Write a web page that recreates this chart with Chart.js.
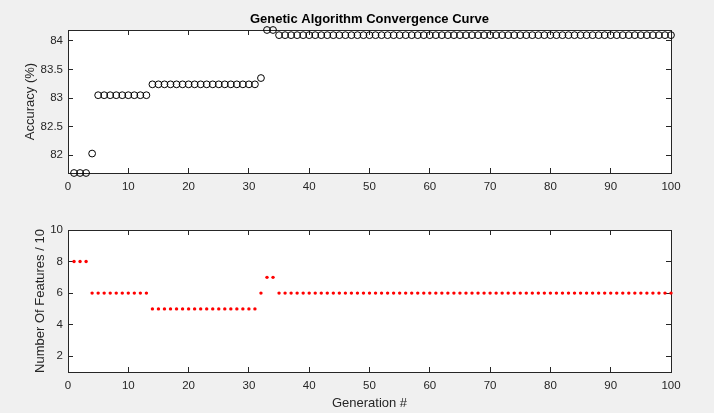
<!DOCTYPE html>
<html>
<head>
<meta charset="utf-8">
<title>Genetic Algorithm Convergence Curve</title>
<script src="https://cdn.jsdelivr.net/npm/chart.js@4.4.1/dist/chart.umd.min.js"></script>
<style>
  html, body { margin: 0; padding: 0; background: #f0f0f0; }
  #wrap { position: relative; width: 714px; height: 413px; overflow: hidden; }
  canvas { position: absolute; left: 0; }
  #accChart { top: 0; }
  #featChart { top: 200px; }
</style>
</head>
<body>
<div id="wrap">
  <canvas id="accChart" width="714" height="200"></canvas>
  <canvas id="featChart" width="714" height="213"></canvas>
</div>
<script>
// ---- DATA ----
const generations = [
  1, 2, 3, 4, 5, 6, 7, 8, 9, 10,
  11, 12, 13, 14, 15, 16, 17, 18, 19, 20,
  21, 22, 23, 24, 25, 26, 27, 28, 29, 30,
  31, 32, 33, 34, 35, 36, 37, 38, 39, 40,
  41, 42, 43, 44, 45, 46, 47, 48, 49, 50,
  51, 52, 53, 54, 55, 56, 57, 58, 59, 60,
  61, 62, 63, 64, 65, 66, 67, 68, 69, 70,
  71, 72, 73, 74, 75, 76, 77, 78, 79, 80,
  81, 82, 83, 84, 85, 86, 87, 88, 89, 90,
  91, 92, 93, 94, 95, 96, 97, 98, 99, 100
];

const accuracy = [
  81.69, 81.69, 81.69, 82.03, 83.05, 83.05, 83.05, 83.05, 83.05, 83.05,
  83.05, 83.05, 83.05, 83.24, 83.24, 83.24, 83.24, 83.24, 83.24, 83.24,
  83.24, 83.24, 83.24, 83.24, 83.24, 83.24, 83.24, 83.24, 83.24, 83.24,
  83.24, 83.35, 84.19, 84.19, 84.10, 84.10, 84.10, 84.10, 84.10, 84.10,
  84.10, 84.10, 84.10, 84.10, 84.10, 84.10, 84.10, 84.10, 84.10, 84.10,
  84.10, 84.10, 84.10, 84.10, 84.10, 84.10, 84.10, 84.10, 84.10, 84.10,
  84.10, 84.10, 84.10, 84.10, 84.10, 84.10, 84.10, 84.10, 84.10, 84.10,
  84.10, 84.10, 84.10, 84.10, 84.10, 84.10, 84.10, 84.10, 84.10, 84.10,
  84.10, 84.10, 84.10, 84.10, 84.10, 84.10, 84.10, 84.10, 84.10, 84.10,
  84.10, 84.10, 84.10, 84.10, 84.10, 84.10, 84.10, 84.10, 84.10, 84.10
];

const features = [
  8, 8, 8, 6, 6, 6, 6, 6, 6, 6,
  6, 6, 6, 5, 5, 5, 5, 5, 5, 5,
  5, 5, 5, 5, 5, 5, 5, 5, 5, 5,
  5, 6, 7, 7, 6, 6, 6, 6, 6, 6,
  6, 6, 6, 6, 6, 6, 6, 6, 6, 6,
  6, 6, 6, 6, 6, 6, 6, 6, 6, 6,
  6, 6, 6, 6, 6, 6, 6, 6, 6, 6,
  6, 6, 6, 6, 6, 6, 6, 6, 6, 6,
  6, 6, 6, 6, 6, 6, 6, 6, 6, 6,
  6, 6, 6, 6, 6, 6, 6, 6, 6, 6
];

const genTicks = [0, 10, 20, 30, 40, 50, 60, 70, 80, 90, 100];
const accTicks = [82, 82.5, 83, 83.5, 84];
const featTicks = [2, 4, 6, 8, 10];

const genRange = [0, 100];
const accRange = [81.69, 84.19];
const featRange = [1, 10];

// ---- STYLE ----
const AXIS_COLOR = '#262626';
const FONT = '"Liberation Sans", Arial, Helvetica, sans-serif';

// white plot box, like a MATLAB axes
const whiteArea = {
  id: 'whiteArea',
  beforeDraw(chart) {
    const { ctx, chartArea: a } = chart;
    ctx.save();
    ctx.fillStyle = '#ffffff';
    ctx.fillRect(a.left, a.top, a.width, a.height);
    ctx.restore();
  }
};

// one side of the axes box, ticks pointing inward
function boxAxis(position, range, tickVals, fitSize, showLabels, padding, title) {
  return {
    type: 'linear',
    position: position,
    min: range[0],
    max: range[1],
    afterBuildTicks: s => { s.ticks = tickVals.map(v => ({ value: v })); },
    afterFit: s => {
      if (s.isHorizontal()) s.height = fitSize;
      else s.width = fitSize;
    },
    grid: {
      drawOnChartArea: false,
      drawTicks: true,
      tickLength: -5,
      color: AXIS_COLOR,
      lineWidth: 1
    },
    border: { display: true, color: AXIS_COLOR, width: 1 },
    ticks: {
      display: showLabels,
      color: AXIS_COLOR,
      font: { family: FONT, size: 11.5 },
      padding: padding,
      maxRotation: 0,
      autoSkip: false,
      callback: v => String(v)
    },
    title: title || { display: false }
  };
}

function axisTitle(text, pad) {
  return {
    display: true,
    text: text,
    color: AXIS_COLOR,
    font: { family: FONT, size: 13 },
    padding: pad
  };
}

// ---- ACCURACY CHART ----
new Chart(document.getElementById('accChart'), {
  type: 'scatter',
  data: {
    datasets: [{
      data: generations.map((g, i) => ({ x: g, y: accuracy[i] })),
      showLine: false,
      clip: false,
      pointStyle: 'circle',
      pointRadius: 3.4,
      pointBorderWidth: 1,
      pointBorderColor: '#000000',
      pointBackgroundColor: 'rgba(0,0,0,0)',
      xAxisID: 'x',
      yAxisID: 'y'
    }]
  },
  options: {
    responsive: false,
    animation: false,
    devicePixelRatio: 1,
    events: [],
    layout: { padding: { left: 0, right: 43, top: 0, bottom: 0 } },
    plugins: {
      legend: { display: false },
      tooltip: { enabled: false },
      title: {
        display: true,
        fullSize: false,
        text: 'Genetic Algorithm Convergence Curve',
        color: '#000000',
        font: { family: FONT, size: 13, weight: 'bold' },
        padding: { top: 12, bottom: 2.4 }
      }
    },
    scales: {
      x: boxAxis('bottom', genRange, genTicks, 27, true, 12),
      x2: boxAxis('top', genRange, genTicks, 0, false, 0),
      y: boxAxis('left', accRange, accTicks, 68, true, 10,
        axisTitle('Accuracy (%)', { top: 22.7, bottom: 0 })),
      y2: boxAxis('right', accRange, accTicks, 0, false, 0)
    }
  },
  plugins: [whiteArea]
});

// ---- FEATURES CHART ----
new Chart(document.getElementById('featChart'), {
  type: 'scatter',
  data: {
    datasets: [{
      data: generations.map((g, i) => ({ x: g, y: features[i] })),
      showLine: false,
      clip: false,
      pointStyle: 'circle',
      pointRadius: 1.7,
      pointBorderWidth: 0,
      pointBackgroundColor: '#ff0000',
      xAxisID: 'x',
      yAxisID: 'y'
    }]
  },
  options: {
    responsive: false,
    animation: false,
    devicePixelRatio: 1,
    events: [],
    layout: { padding: { left: 0, right: 43, top: 30, bottom: 0 } },
    plugins: {
      legend: { display: false },
      tooltip: { enabled: false },
      title: { display: false }
    },
    scales: {
      x: boxAxis('bottom', genRange, genTicks, 41, true, 12,
        axisTitle('Generation #', { top: 0, bottom: 2.2 })),
      x2: boxAxis('top', genRange, genTicks, 0, false, 0),
      y: boxAxis('left', featRange, featTicks, 68, true, 10,
        axisTitle('Number Of Features / 10', { top: 32.7, bottom: 0 })),
      y2: boxAxis('right', featRange, featTicks, 0, false, 0)
    }
  },
  plugins: [whiteArea]
});
</script>
</body>
</html>
